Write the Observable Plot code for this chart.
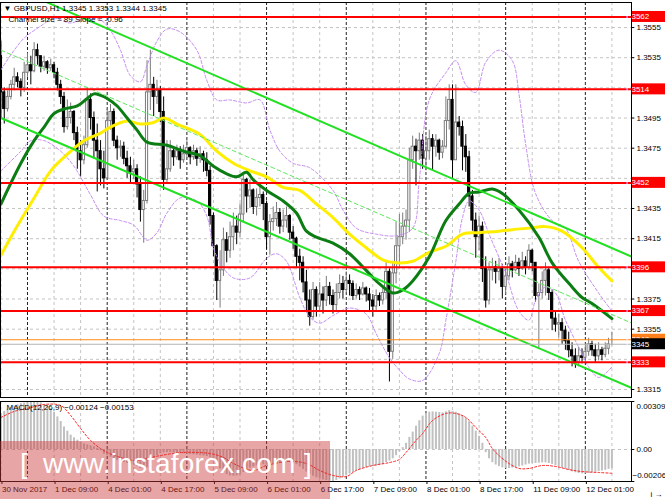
<!DOCTYPE html>
<html><head><meta charset="utf-8">
<script src="https://cdn.jsdelivr.net/npm/d3@7"></script>
<script src="https://cdn.jsdelivr.net/npm/@observablehq/plot@0.6"></script>
<style>
body{margin:0;background:#fff;}
#wrap{position:relative;width:665px;height:499px;overflow:hidden;font-family:"Liberation Sans",Arial,sans-serif;background:#fff;}
#wrap svg{position:absolute;left:0;overflow:visible;background:transparent;}
#wm{position:absolute;left:0;top:441px;width:330px;height:58px;background:rgba(205,55,55,0.45);color:#fff;font-family:"Liberation Sans",Arial,sans-serif;}
#wm span{position:absolute;top:6px;font-size:28px;line-height:34px;}
</style></head><body><div id="wrap"></div>
<script>
// ---------- DATA ----------
const symbol = "GBPUSD,H1";
const firstOpen = 1.3536;
const closes = [
1.3512,1.3501,1.3509,1.3517,1.3522,1.3519,1.3515,1.3525,1.3530,1.3526,
1.3540,1.3536,1.3529,1.3532,1.3528,1.3530,1.3525,1.3517,1.3509,1.3489,
1.3495,1.3499,1.3485,1.3473,1.3467,1.3477,1.3507,1.3495,1.3480,1.3473,
1.3461,1.3455,1.3493,1.3499,1.3480,1.3475,1.3476,1.3468,1.3463,1.3459,
1.3461,1.3451,1.3434,1.3440,1.3512,1.3517,1.3509,1.3513,1.3499,1.3454,
1.3461,1.3473,1.3469,1.3473,1.3467,1.3471,1.3475,1.3469,1.3473,1.3468,
1.3471,1.3467,1.3460,1.3430,1.3410,1.3387,1.3394,1.3414,1.3407,1.3416,
1.3423,1.3419,1.3431,1.3454,1.3443,1.3447,1.3436,1.3442,1.3444,1.3438,
1.3416,1.3426,1.3428,1.3432,1.3423,1.3427,1.3430,1.3419,1.3415,1.3403,
1.3399,1.3386,1.3374,1.3363,1.3381,1.3370,1.3378,1.3374,1.3383,1.3377,
1.3371,1.3379,1.3385,1.3381,1.3387,1.3385,1.3377,1.3381,1.3378,1.3382,
1.3378,1.3374,1.3370,1.3377,1.3374,1.3379,1.3393,1.3340,1.3392,1.3410,
1.3416,1.3423,1.3427,1.3467,1.3476,1.3473,1.3480,1.3468,1.3473,1.3481,
1.3476,1.3480,1.3472,1.3476,1.3493,1.3507,1.3467,1.3492,1.3489,1.3476,
1.3469,1.3443,1.3427,1.3416,1.3423,1.3395,1.3374,1.3394,1.3396,1.3393,
1.3395,1.3383,1.3390,1.3398,1.3394,1.3399,1.3395,1.3400,1.3396,1.3407,
1.3399,1.3377,1.3379,1.3387,1.3394,1.3379,1.3362,1.3358,1.3359,1.3354,
1.3347,1.3341,1.3337,1.3333,1.3337,1.3336,1.3340,1.3345,1.3341,1.3337,
1.3341,1.3338,1.3342,1.3345,1.3345];
const highs = [
1.3546,1.3515,1.3513,1.3520,1.3528,1.3525,1.3521,1.3532,1.3538,1.3536,
1.3545,1.3544,1.3534,1.3536,1.3533,1.3534,1.3532,1.3528,1.3520,1.3512,
1.3507,1.3505,1.3500,1.3489,1.3480,1.3483,1.3515,1.3511,1.3499,1.3491,
1.3480,1.3473,1.3501,1.3504,1.3501,1.3483,1.3480,1.3479,1.3473,1.3469,
1.3467,1.3464,1.3456,1.3447,1.3533,1.3540,1.3522,1.3520,1.3516,1.3509,
1.3480,1.3480,1.3476,1.3477,1.3476,1.3477,1.3480,1.3476,1.3477,1.3475,
1.3476,1.3473,1.3472,1.3463,1.3432,1.3411,1.3407,1.3422,1.3419,1.3426,
1.3432,1.3430,1.3438,1.3459,1.3455,1.3454,1.3448,1.3448,1.3450,1.3446,
1.3440,1.3431,1.3436,1.3439,1.3435,1.3434,1.3436,1.3431,1.3423,1.3416,
1.3408,1.3403,1.3394,1.3381,1.3386,1.3383,1.3386,1.3383,1.3390,1.3386,
1.3381,1.3385,1.3391,1.3390,1.3393,1.3391,1.3387,1.3385,1.3383,1.3386,
1.3383,1.3382,1.3378,1.3381,1.3379,1.3383,1.3400,1.3395,1.3400,1.3426,
1.3431,1.3432,1.3434,1.3475,1.3483,1.3481,1.3485,1.3484,1.3483,1.3487,
1.3484,1.3484,1.3481,1.3480,1.3509,1.3517,1.3517,1.3517,1.3496,1.3493,
1.3484,1.3473,1.3447,1.3432,1.3430,1.3426,1.3403,1.3399,1.3402,1.3400,
1.3402,1.3398,1.3395,1.3403,1.3400,1.3404,1.3402,1.3406,1.3403,1.3411,
1.3408,1.3399,1.3385,1.3393,1.3399,1.3396,1.3381,1.3366,1.3365,1.3362,
1.3357,1.3353,1.3346,1.3342,1.3343,1.3342,1.3345,1.3349,1.3347,1.3345,
1.3346,1.3343,1.3346,1.3349,1.3353];
const lows = [
1.3495,1.3491,1.3499,1.3507,1.3513,1.3515,1.3509,1.3512,1.3522,1.3517,
1.3525,1.3530,1.3525,1.3526,1.3524,1.3526,1.3521,1.3513,1.3504,1.3485,
1.3487,1.3491,1.3480,1.3461,1.3456,1.3464,1.3475,1.3487,1.3468,1.3446,
1.3450,1.3448,1.3454,1.3487,1.3476,1.3467,1.3469,1.3464,1.3455,1.3451,
1.3454,1.3442,1.3426,1.3412,1.3438,1.3500,1.3496,1.3504,1.3492,1.3447,
1.3451,1.3459,1.3463,1.3467,1.3461,1.3465,1.3468,1.3464,1.3467,1.3463,
1.3465,1.3459,1.3456,1.3424,1.3403,1.3374,1.3369,1.3390,1.3399,1.3402,
1.3407,1.3411,1.3416,1.3426,1.3432,1.3435,1.3431,1.3430,1.3436,1.3427,
1.3408,1.3404,1.3420,1.3423,1.3418,1.3419,1.3422,1.3414,1.3408,1.3396,
1.3387,1.3379,1.3367,1.3357,1.3361,1.3363,1.3366,1.3365,1.3370,1.3371,
1.3365,1.3367,1.3375,1.3375,1.3379,1.3377,1.3374,1.3375,1.3374,1.3377,
1.3373,1.3366,1.3363,1.3366,1.3370,1.3371,1.3375,1.3320,1.3335,1.3385,
1.3396,1.3411,1.3414,1.3419,1.3461,1.3450,1.3467,1.3461,1.3460,1.3467,
1.3460,1.3469,1.3467,1.3468,1.3475,1.3487,1.3455,1.3467,1.3483,1.3460,
1.3459,1.3436,1.3420,1.3402,1.3407,1.3386,1.3369,1.3371,1.3387,1.3385,
1.3387,1.3375,1.3378,1.3387,1.3389,1.3393,1.3390,1.3394,1.3391,1.3394,
1.3393,1.3373,1.3342,1.3375,1.3377,1.3374,1.3354,1.3353,1.3349,1.3345,
1.3341,1.3336,1.3330,1.3329,1.3330,1.3332,1.3333,1.3337,1.3337,1.3333,
1.3334,1.3334,1.3336,1.3338,1.3344];

// moving averages [bar, price]
const greenMA = [[0,1.3438],[6,1.3465],[10,1.3480],[13,1.3489],[16,1.3498],[19,1.3501],[23,1.3503],[26,1.3508],[28,1.3511],[30,1.3510],[32,1.3508],[35,1.3503],[38,1.3495],[41,1.3487],[44,1.3479],[50,1.3477],[55,1.3473],[60,1.3470],[64,1.3463],[68,1.3458],[71,1.3456],[74,1.3459],[76,1.3454],[80,1.3447],[85,1.3440],[89,1.3432],[92,1.3420],[95,1.3416],[100,1.3412],[105,1.3405],[110,1.3394],[114,1.3385],[118,1.3379],[121,1.3381],[124,1.3387],[129,1.3403],[134,1.3427],[138,1.3438],[141,1.3445],[144,1.3446],[148,1.3448],[151,1.3445],[156,1.3434],[162,1.3416],[166,1.3399],[172,1.3383],[175,1.3376],[178,1.3372],[184,1.3362]];
const yellowMA = [[0,1.3404],[4,1.3420],[10,1.3442],[15,1.3460],[20,1.3471],[25,1.3480],[30,1.3485],[33,1.3489],[38,1.3493],[42,1.3491],[46,1.3492],[49,1.3495],[53,1.3491],[60,1.3484],[65,1.3473],[70,1.3465],[75,1.3460],[80,1.3456],[85,1.3449],[90,1.3447],[95,1.3438],[100,1.3429],[105,1.3418],[110,1.3409],[115,1.3401],[119,1.3399],[124,1.3400],[129,1.3406],[134,1.3410],[139,1.3418],[144,1.3419],[150,1.3420],[154,1.3421],[159,1.3422],[164,1.3423],[169,1.3420],[175,1.3409],[180,1.3396],[184,1.3387]];
// bands [bar, price]
const bandUpper = [[0,1.3527],[4,1.3540],[7,1.3548],[12,1.3556],[16,1.3561],[21,1.3558],[25,1.3561],[30,1.3560],[33,1.3553],[36,1.3540],[39,1.3523],[42,1.3519],[44,1.3530],[47,1.3546],[50,1.3554],[54,1.3552],[59,1.3540],[62,1.3520],[65,1.3507],[69,1.3507],[74,1.3505],[78,1.3507],[81,1.3487],[84,1.3473],[88,1.3465],[93,1.3462],[100,1.3447],[103,1.3434],[107,1.3422],[113,1.3418],[119,1.3417],[124,1.3422],[126,1.3454],[129,1.3507],[134,1.3525],[137,1.3533],[140,1.3517],[143,1.3512],[146,1.3532],[150,1.3540],[154,1.3533],[156,1.3511],[158,1.3478],[161,1.3445],[166,1.3427],[170,1.3422],[174,1.3400],[180,1.3379],[184,1.3367]];
const bandLower = [[0,1.3460],[6,1.3473],[9,1.3480],[13,1.3480],[18,1.3473],[22,1.3463],[27,1.3444],[31,1.3430],[36,1.3427],[40,1.3424],[44,1.3414],[47,1.3419],[50,1.3432],[54,1.3442],[59,1.3440],[62,1.3430],[64,1.3409],[66,1.3399],[70,1.3389],[75,1.3389],[80,1.3402],[83,1.3405],[86,1.3400],[90,1.3376],[93,1.3363],[96,1.3359],[100,1.3364],[105,1.3369],[110,1.3365],[113,1.3352],[117,1.3336],[120,1.3328],[123,1.3322],[127,1.3321],[132,1.3339],[134,1.3361],[137,1.3400],[139,1.3429],[141,1.3440],[144,1.3434],[147,1.3418],[152,1.3392],[156,1.3367],[159,1.3361],[161,1.3374],[164,1.3383],[167,1.3379],[170,1.3361],[174,1.3343],[177,1.3330],[180,1.3323],[184,1.3330]];
// regression channel [bar, price]
const channelUpper = [[0,1.3585],[190,1.3403]];
const channelMiddle = [[0,1.3540],[190,1.3359]];
const channelLower = [[0,1.3495],[190,1.3316]];
const channelSize = 89, channelSlope = -0.96;
// horizontal levels
const redLevels = [1.3562,1.3514,1.3452,1.3396,1.3367,1.3333];
const askLevel = 1.3348, bidLevel = 1.3345;
const priceTicks = [1.3555,1.3535,1.3515,1.3495,1.3475,1.3455,1.3435,1.3415,1.3395,1.3375,1.3355,1.3335,1.3315];
const priceTickLabels = [1.3555,1.3535,1.3495,1.3475,1.3435,1.3415,1.3375,1.3355,1.3315];
// time axis
const gridBars = [0,16,24,40,48,64,72,88,96,112,120,136,144,160,168,184];
const daySeparators = [8,32,56,80,104,128,152,176];
const labelBars = [0,16,32,48,64,80,96,112,128,144,160,176];
const timeLabels = ["30 Nov 2017","1 Dec 09:00","4 Dec 01:00","4 Dec 17:00","5 Dec 09:00","6 Dec 01:00","6 Dec 17:00","7 Dec 09:00","8 Dec 01:00","8 Dec 17:00","11 Dec 09:00","12 Dec 01:00"];
// MACD(12,26,9)
const macdHist = [0.00232,0.00245,0.00259,0.00270,0.00279,0.00287,0.00295,0.00299,0.00302,0.00305,
0.00308,0.00309,0.00300,0.00290,0.00280,0.00264,0.00240,0.00210,0.00180,0.00145,
0.00118,0.00092,0.00075,0.00060,0.00048,0.00036,0.00030,0.00024,0.00018,0.00008,
-0.00008,-0.00030,-0.00040,-0.00050,-0.00062,-0.00070,-0.00076,-0.00084,-0.00090,-0.00096,
-0.00102,-0.00110,-0.00122,-0.00130,-0.00118,-0.00085,-0.00058,-0.00040,-0.00028,-0.00022,
-0.00020,-0.00020,-0.00022,-0.00024,-0.00026,-0.00028,-0.00030,-0.00032,-0.00034,-0.00036,
-0.00040,-0.00042,-0.00045,-0.00052,-0.00070,-0.00098,-0.00125,-0.00148,-0.00162,-0.00170,
-0.00172,-0.00170,-0.00162,-0.00148,-0.00132,-0.00120,-0.00112,-0.00105,-0.00100,-0.00098,
-0.00100,-0.00100,-0.00096,-0.00090,-0.00085,-0.00082,-0.00080,-0.00082,-0.00088,-0.00098,
-0.00112,-0.00128,-0.00145,-0.00160,-0.00172,-0.00182,-0.00190,-0.00196,-0.00200,-0.00204,
-0.00206,-0.00200,-0.00190,-0.00180,-0.00170,-0.00158,-0.00148,-0.00138,-0.00130,-0.00122,
-0.00116,-0.00112,-0.00110,-0.00108,-0.00104,-0.00096,-0.00084,-0.00074,-0.00060,-0.00040,
-0.00015,0.00012,0.00040,0.00078,0.00112,0.00150,0.00185,0.00215,0.00232,0.00240,
0.00242,0.00240,0.00238,0.00236,0.00242,0.00250,0.00246,0.00240,0.00230,0.00218,
0.00200,0.00178,0.00150,0.00118,0.00085,0.00040,-0.00020,-0.00060,-0.00085,-0.00100,
-0.00110,-0.00118,-0.00122,-0.00122,-0.00120,-0.00116,-0.00112,-0.00106,-0.00100,-0.00094,
-0.00090,-0.00090,-0.00088,-0.00086,-0.00086,-0.00090,-0.00096,-0.00104,-0.00112,-0.00120,
-0.00128,-0.00136,-0.00144,-0.00150,-0.00154,-0.00156,-0.00156,-0.00154,-0.00150,-0.00146,
-0.00142,-0.00138,-0.00134,-0.00128,-0.00124];
const macdSignal = [[0,0.00206],[4,0.00245],[9,0.00270],[13,0.00290],[18,0.00283],[21,0.00219],[24,0.00135],[27,0.00058],[30,0.00006],[32,-0.00019],[36,-0.00051],[40,-0.00071],[44,-0.00058],[48,-0.00039],[55,-0.00019],[63,-0.00026],[67,-0.00051],[70,-0.00090],[76,-0.00135],[80,-0.00103],[87,-0.00077],[92,-0.00090],[96,-0.00135],[100,-0.00167],[104,-0.00174],[107,-0.00135],[112,-0.00103],[117,-0.00084],[120,-0.00064],[122,-0.00019],[125,0.00058],[127,0.00103],[130,0.00187],[134,0.00232],[137,0.00232],[140,0.00206],[143,0.00142],[146,0.00077],[148,0.00006],[150,-0.00039],[153,-0.00090],[156,-0.00122],[159,-0.00122],[163,-0.00103],[167,-0.00109],[171,-0.00129],[175,-0.00142],[180,-0.00148],[184,-0.00153]];
const macdRange = [-0.00206, 0.00309];
const macdTicks = [0.00309, 0, -0.00206];

// ---------- BUILD ----------
const candles = closes.map((c, i) => {
  const o = i === 0 ? firstOpen : closes[i - 1];
  return {i, o, c, h: Math.max(highs[i], o, c), l: Math.min(lows[i], o, c), up: c >= o};
});
const histData = macdHist.map((v, i) => ({i, v}));
const last = candles[candles.length - 1];
const f4 = d3.format(".4f"), f5 = d3.format(".5f");
const xDomain = [-0.13, 189.9];
const FONT = "Liberation Sans, Arial, sans-serif";
const wrap = document.getElementById("wrap");

const main = Plot.plot({
  width: 665, height: 400,
  marginLeft: 0, marginRight: 34, marginTop: 2, marginBottom: 3,
  x: {domain: xDomain, axis: null},
  y: {domain: [1.33097, 1.35716], axis: null},
  color: {type: "identity"},
  style: {fontFamily: FONT, fontSize: "8px", background: "transparent", color: "#000"},
  marks: [
    Plot.ruleY(priceTicks, {stroke: "#c4c4c4", strokeDasharray: "3,3"}),
    Plot.ruleX(gridBars, {stroke: "#c4c4c4", strokeDasharray: "3,3"}),
    Plot.ruleX(daySeparators, {stroke: "#222", strokeDasharray: "3,2"}),
    Plot.ruleX(candles, {x: "i", y1: "l", y2: "h", stroke: d => d.up ? "#7a7a7a" : "#000", strokeWidth: 1}),
    Plot.rect(candles, {x1: d => d.i - 0.33, x2: d => d.i + 0.33, y1: "o", y2: "c",
      fill: d => d.up ? "#fff" : "#000", stroke: d => d.up ? "#7a7a7a" : "#000", strokeWidth: 1}),
    Plot.line(bandUpper, {x: d => d[0], y: d => d[1], stroke: "#c58cf2", strokeWidth: 1, strokeDasharray: "3,2", curve: "catmull-rom", clip: true}),
    Plot.line(bandLower, {x: d => d[0], y: d => d[1], stroke: "#c58cf2", strokeWidth: 1, strokeDasharray: "3,2", curve: "catmull-rom", clip: true}),
    Plot.line(yellowMA, {x: d => d[0], y: d => d[1], stroke: "#ffee00", strokeWidth: 3, curve: "catmull-rom"}),
    Plot.line(greenMA, {x: d => d[0], y: d => d[1], stroke: "#0b7d12", strokeWidth: 3, curve: "catmull-rom"}),
    Plot.line(channelMiddle, {x: d => d[0], y: d => d[1], stroke: "#5ee85e", strokeWidth: 1, strokeDasharray: "4,3", clip: true}),
    Plot.line(channelUpper, {x: d => d[0], y: d => d[1], stroke: "#22e022", strokeWidth: 2, clip: true}),
    Plot.line(channelLower, {x: d => d[0], y: d => d[1], stroke: "#22e022", strokeWidth: 2, clip: true}),
    Plot.ruleY([askLevel], {stroke: "#ff8c1a", strokeWidth: 1}),
    Plot.ruleY([bidLevel], {stroke: "#b4b4b4", strokeWidth: 1}),
    Plot.ruleY(redLevels, {stroke: "#ff0000", strokeWidth: 2}),
    Plot.frame({stroke: "#000"}),
    Plot.ruleY(priceTicks, {x1: xDomain[1], x2: xDomain[1] + 1, stroke: "#000"}),
    Plot.text(priceTickLabels, {x: xDomain[1], y: d => d, dx: 5, textAnchor: "start", fontSize: 8, text: d => f4(d)}),
    Plot.text([last], {frameAnchor: "top-left", dx: 3, dy: 3, lineAnchor: "top", textAnchor: "start", fontSize: 8,
      text: d => `\u25BC ${symbol} ${f4(d.o)} ${f4(d.h)} ${f4(d.l)} ${f4(d.c)}`}),
    Plot.text([0], {frameAnchor: "top-left", dx: 8, dy: 14, lineAnchor: "top", textAnchor: "start", fontSize: 8,
      text: () => `Channel size = ${channelSize} Slope = ${channelSlope}`})
  ]
});
main.style.top = "0px";
wrap.appendChild(main);

// price labels on the right axis
{
  const ys = main.scale("y");
  const g = d3.select(main).append("g").attr("font-family", FONT).attr("font-size", 8);
  const box = (v, bg, fg) => {
    const y = ys.apply(v);
    g.append("rect").attr("x", 632).attr("y", y - 5.5).attr("width", 33).attr("height", 11).attr("fill", bg);
    g.append("text").attr("x", 637).attr("y", y).attr("dy", "0.35em").attr("fill", fg).text(f4(v));
  };
  redLevels.forEach(v => box(v, "#ff0000", "#fff"));
  box(askLevel, "#ff7f1a", "#fff");
  box(bidLevel, "#000", "#fff");
}

const macd = Plot.plot({
  width: 665, height: 99,
  marginLeft: 0, marginRight: 34, marginTop: 1, marginBottom: 18,
  x: {domain: xDomain, axis: null},
  y: {domain: macdRange, axis: null},
  style: {fontFamily: FONT, fontSize: "8px", background: "transparent", color: "#000"},
  marks: [
    Plot.ruleX(gridBars, {stroke: "#c4c4c4", strokeDasharray: "3,3"}),
    Plot.ruleX(daySeparators, {stroke: "#222", strokeDasharray: "3,2"}),
    Plot.ruleY([0], {stroke: "#c4c4c4", strokeDasharray: "3,3"}),
    Plot.ruleX(histData, {x: "i", y1: 0, y2: "v", stroke: "#c0c0c0", strokeWidth: 2}),
    Plot.line(macdSignal, {x: d => d[0], y: d => d[1], stroke: "#ff2020", strokeWidth: 1, strokeDasharray: "2,2", curve: "catmull-rom"}),
    Plot.frame({stroke: "#000"}),
    Plot.ruleY(macdTicks, {x1: xDomain[1], x2: xDomain[1] + 1, stroke: "#000"}),
    Plot.text([macdTicks[0]], {x: xDomain[1], y: d => d, dx: 5, dy: 5, textAnchor: "start", fontSize: 8, text: d => f5(d)}),
    Plot.text([macdTicks[1]], {x: xDomain[1], y: d => d, dx: 5, textAnchor: "start", fontSize: 8, text: () => "0.00"}),
    Plot.text([macdTicks[2]], {x: xDomain[1], y: d => d, dx: 1, dy: -6, textAnchor: "start", fontSize: 8, text: d => f5(d)}),
    Plot.axisX(labelBars, {anchor: "bottom", tickSize: 3, tickPadding: 2, textAnchor: "start", dx: 1, fontSize: 8,
      tickFormat: (d) => timeLabels[labelBars.indexOf(d)]}),
    Plot.text([0], {frameAnchor: "top-left", dx: 6, dy: 3, lineAnchor: "top", textAnchor: "start", fontSize: 8,
      text: () => `MACD(12,26,9) ${f5(macdHist[macdHist.length - 1])} ${f5(macdSignal[macdSignal.length - 1][1])}`})
  ]
});
macd.style.top = "400px";
wrap.appendChild(macd);

// watermark
const wm = document.createElement("div");
wm.id = "wm";
wm.innerHTML = '<span style="left:20px">[</span><span style="left:43px;letter-spacing:0.2px">www.instaforex.com</span><span style="left:304px">]</span>';
wrap.appendChild(wm);
</script></body></html>
